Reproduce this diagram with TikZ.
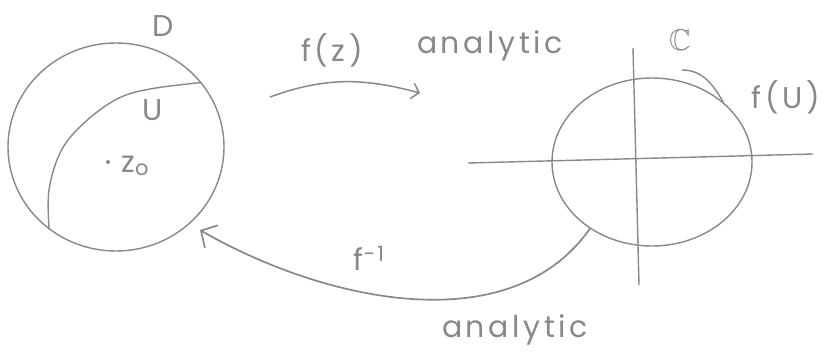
\documentclass[tikz,border=0pt]{standalone}
\usepackage{amssymb}
\usepackage{fontspec}
\setmainfont{Poppins}
\usepackage{tikz}
\usetikzlibrary{arrows.meta,positioning,shapes.geometric}
\definecolor{pencil}{HTML}{888888}

\begin{document}
\begin{tikzpicture}[x=1pt, y=-1pt,
    every node/.style={font=\fontsize{30}{32}\selectfont\addfontfeature{LetterSpace=12}, text=pencil},
    region/.style={draw=pencil, ellipse, line width=1.4pt, inner sep=0pt},
    curve/.style={draw=pencil, line width=1.4pt},
    arr/.style={-{Straight Barb[length=12pt, width=26pt]}, line width=1.7pt, draw=pencil},
    sarr/.style={-{Straight Barb[length=7pt, width=16pt]}, line width=1.5pt, draw=pencil}
]
\useasboundingbox (0,0) rectangle (834,356);

% ── Domain D with subset U ───────────────────────────────────────────────
\node[region, minimum width=216pt, minimum height=208pt] (dom) at (116,147) {};
\node (dlab) at (163,26) {D};
\draw[curve] plot[smooth, tension=0.6] coordinates
    {(dom.37) (150,89) (117,99) (84,123) (61,151) (49,190) (dom.231)};
\node (ulab) at (153,110) {U};
\fill[pencil] (108,162) circle (2pt);
\node[anchor=west] (zlab) at (118,166) {z\textsubscript{o}};

% ── Image f(U) in C ───────────────────────────────────────────────────────
\node[region, minimum width=200pt, minimum height=168pt] (img) at (652,162) {};
\coordinate (hl) at (468,163);
\coordinate (hr) at (813,154);
\coordinate (vt) at (633,48);
\coordinate (vb) at (639,285);
\draw[curve] (hl) -- (hr);
\draw[curve] (vt) -- (vb);
\node (clab) at (680,40) {$\mathbb{C}$};
\node (flab) at (786,97) {f(U)};
\coordinate (lead) at (682,70);
\draw[curve] (lead) to[out=0, in=120] (img.40);

% ── f : D -> C ────────────────────────────────────────────────────────────
\coordinate (fs) at (270,97);
\coordinate (fe) at (420,93);
\draw[sarr] (fs) to[out=20, in=165] (fe);
\node (fz) at (332,50) {f(z)};
\node[anchor=base] (an1) at (490,53) {analytic};

% ── inverse ──────────────────────────────────────────────────────────────
\coordinate (ge) at (200,230);
\draw[arr] (img.227) to[out=235, in=-30, looseness=0.92] (ge);
\node (finv) at (369,258) {f\textsuperscript{−1}};
\node[anchor=base] (an2) at (515,337) {analytic};

\end{tikzpicture}
\end{document}
